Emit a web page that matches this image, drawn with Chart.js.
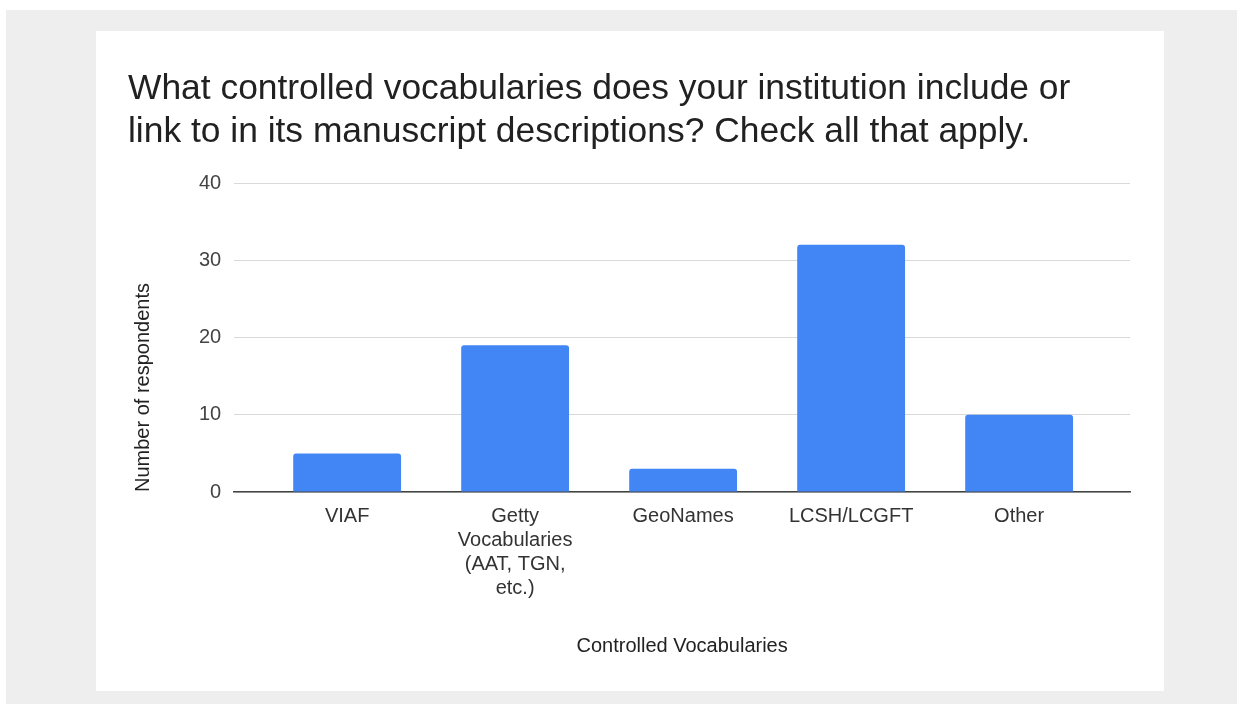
<!DOCTYPE html>
<html lang="en">
<head>
    <meta charset="UTF-8">
    <title>Controlled vocabularies</title>
    <script src="https://cdn.jsdelivr.net/npm/chart.js"></script>
    <style>
        html, body {
            margin: 0;
            background: #ffffff;
        }
        .backdrop {
            position: absolute;
            left: 6px;
            top: 10px;
            width: 1231px;
            height: 694px;
            background: #eeeeee;
        }
        .card {
            position: absolute;
            left: 96px;
            top: 31px;
            width: 1068px;
            height: 660px;
            background: #ffffff;
        }
    </style>
</head>
<body>
<div class="backdrop"></div>
<div class="card">
    <canvas id="vocabChart" width="1068" height="660"></canvas>
</div>

<script>
    // dati
    const categories = ['VIAF', ['Getty', 'Vocabularies', '(AAT, TGN,', 'etc.)'], 'GeoNames', 'LCSH/LCGFT', 'Other'];
    const respondents = [5, 19, 3, 32, 10];
    const yTicks = [0, 10, 20, 30, 40];

    const FONT = "'Liberation Sans', Arial, sans-serif";

    const ctx = document.getElementById('vocabChart').getContext('2d');
    new Chart(ctx, {
        type: 'bar',
        data: {
            datasets: [{
                label: 'Number of respondents',
                data: respondents.map((v, i) => ({ x: i, y: v })),
                backgroundColor: '#4285f4',
                borderRadius: { topLeft: 3, topRight: 3, bottomLeft: 0, bottomRight: 0 },
                borderSkipped: 'start',
                barPercentage: 0.642,
                categoryPercentage: 1
            }]
        },
        options: {
            responsive: false,
            animation: false,
            layout: {
                padding: { left: 32, right: 34, top: 0, bottom: 0 }
            },
            plugins: {
                legend: { display: false },
                tooltip: { enabled: false },
                title: {
                    display: true,
                    align: 'start',
                    text: ['What controlled vocabularies does your institution include or',
                           'link to in its manuscript descriptions? Check all that apply.'],
                    color: '#212121',
                    font: { family: FONT, size: 35.4, weight: 'normal', lineHeight: 1.23 },
                    padding: { top: 36, bottom: 29 }
                }
            },
            scales: {
                x: {
                    type: 'linear',
                    offset: false,
                    bounds: 'data',
                    min: -0.672,
                    max: 4.66,
                    afterBuildTicks: (scale) => {
                        scale.ticks = categories.map((c, i) => ({ value: i }));
                    },
                    grid: { display: false, drawTicks: false },
                    border: { display: true, color: '#444444', width: 1.5 },
                    ticks: {
                        autoSkip: false,
                        maxRotation: 0,
                        padding: 12,
                        color: '#333333',
                        font: { family: FONT, size: 20, lineHeight: 1.2 },
                        callback: (value) => categories[value]
                    },
                    title: {
                        display: true,
                        text: 'Controlled Vocabularies',
                        color: '#222222',
                        font: { family: FONT, size: 20, lineHeight: 1.2 },
                        padding: { top: 22, bottom: 33 }
                    }
                },
                y: {
                    min: 0,
                    max: 40,
                    afterBuildTicks: (scale) => {
                        scale.ticks = yTicks.map(v => ({ value: v }));
                    },
                    grid: { color: '#d9d9d9', lineWidth: 1, drawTicks: false },
                    border: { display: false },
                    ticks: {
                        padding: 13,
                        color: '#444444',
                        font: { family: FONT, size: 20, lineHeight: 1.2 }
                    },
                    title: {
                        display: true,
                        align: 'start',
                        text: 'Number of respondents',
                        color: '#222222',
                        font: { family: FONT, size: 20, lineHeight: 1.2 },
                        padding: { top: 3, bottom: 31 }
                    }
                }
            }
        }
    });
</script>
</body>
</html>
